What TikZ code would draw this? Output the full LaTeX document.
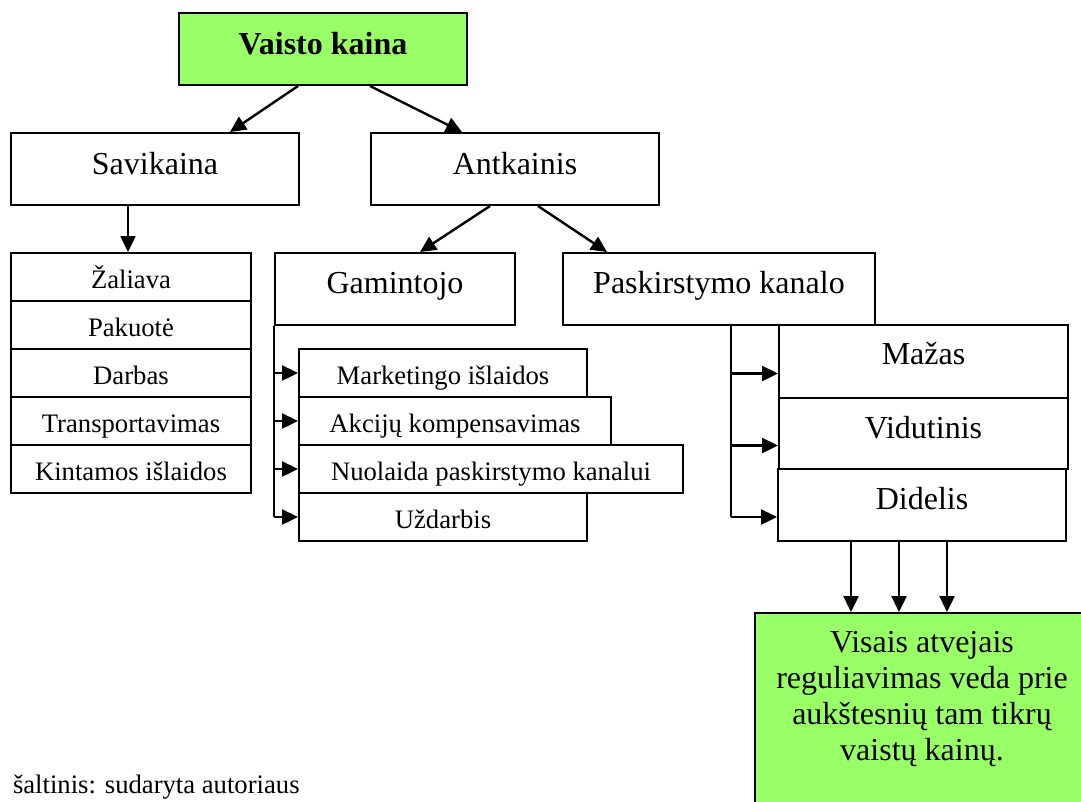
\documentclass[tikz,border=0pt]{standalone}
\usepackage{fontspec}
\setmainfont{Liberation Serif}
\usetikzlibrary{arrows.meta,calc}
\definecolor{vgreen}{HTML}{99FF66}
\newcommand\mainfs{\fontsize{32}{36}\selectfont}
\newcommand\smallfs{\fontsize{26.67}{30}\selectfont}
\begin{document}
\begin{tikzpicture}[x=1pt,y=-1pt,line width=2pt,
  bx/.style n args={3}{draw, fill=white, anchor=north west, inner sep=0pt,
     minimum width=#1pt, text height=#2pt, text depth=#3pt},
  big/.style={font=\mainfs},
  sml/.style={font=\smallfs},
  arr/.style={line width=2.4pt, -{Triangle[length=16pt,width=15pt]}},
  ln/.style={line width=2.4pt}]
\useasboundingbox (0,0) rectangle (1081,801);
\clip (0,0) rectangle (1081,801);
\fill[white] (0,0) rectangle (1081,801);

% top level
\node[bx={288}{41}{31}, fill=vgreen, font=\mainfs\bfseries] (top) at (178,12) {Vaisto kaina};
\node[bx={288}{41}{31}, big] (sav) at (10,132) {Savikaina};
\node[bx={288}{41}{31}, big] (ant) at (370,132) {Antkainis};

% second level
\node[bx={240}{40}{32}, big] (gam) at (274,252) {Gamintojo};
\node[bx={312}{40}{32}, big] (pask) at (562,252) {Paskirstymo kanalo};

% Savikaina list
\node[bx={240}{35}{13}, sml] (l1) at (10,252) {Žaliava};
\node[bx={240}{35}{13}, sml] (l2) at (10,300) {Pakuotė};
\node[bx={240}{35}{13}, sml] (l3) at (10,348) {Darbas};
\node[bx={240}{35}{13}, sml] (l4) at (10,396) {Transportavimas};
\node[bx={240}{35}{13}, sml] (l5) at (10,444) {Kintamos išlaidos};

% Gamintojo list
\node[bx={288}{35}{13}, sml] (g1) at (298,348) {Marketingo išlaidos};
\node[bx={312}{35}{13}, sml] (g2) at (298,396) {Akcijų kompensavimas};
\node[bx={384}{35}{13}, sml] (g3) at (298,444) {Nuolaida paskirstymo kanalui};
\node[bx={288}{35}{13}, sml] (g4) at (298,492) {Uždarbis};

% Paskirstymo list
\node[bx={289}{39}{34}, big] (m1) at (778,324) {Mažas};
\node[bx={289}{40}{31}, big] (m2) at (778,397) {Vidutinis};
\node[bx={288}{40}{32}, big] (m3) at (777,468) {Didelis};

% result box
\node[draw, fill=vgreen, anchor=north west, inner sep=0pt, minimum width=336pt, minimum height=240pt] (res) at (754,612) {};
\node[big, align=center, anchor=north, inner sep=0pt] (restext) at (922,630)
  {Visais atvejais\\reguliavimas veda prie\\aukštesnių tam tikrų\\vaistų kainų.};

% footer
\node[sml, anchor=base west, inner sep=0pt] (src) at (12,793) {šaltinis: sudaryta autoriaus};

% connectors
\draw[arr] ($(top.south west)+(120,0)$) -- ($(sav.north west)+(220,0)$);
\draw[arr] ($(top.south west)+(192,0)$) -- ($(ant.north west)+(92,0)$);
\draw[arr] ($(sav.south west)+(118,0)$) -- ($(l1.north west)+(118,0)$);
\draw[arr] ($(ant.south west)+(120,0)$) -- ($(gam.north west)+(146,0)$);
\draw[arr] ($(ant.south west)+(168,0)$) -- ($(pask.north west)+(45,0)$);

% Gamintojo bracket
\draw[ln] (gam.south west) -- (gam.south west |- g4.west);
\foreach \g in {g1,g2,g3,g4}
  \draw[arr] (gam.south west |- \g.west) -- (\g.west);

% Paskirstymo bracket
\coordinate (pk) at ($(pask.south west)+(169,0)$);
\draw[ln] (pk) -- ($(pk |- m3.west)+(0,12)$);
\foreach \m in {m1,m2,m3}
  \draw[arr] ($(pk |- \m.west)+(0,12)$) -- ($(\m.west)+(0,12)$);

% Didelis to result
\draw[arr] ($(m3.south west)+(74,0)$) -- ($(res.north west)+(97,0)$);
\draw[arr] ($(m3.south west)+(122,0)$) -- ($(res.north west)+(145,0)$);
\draw[arr] ($(m3.south west)+(170,0)$) -- ($(res.north west)+(193,0)$);
\end{tikzpicture}
\end{document}
